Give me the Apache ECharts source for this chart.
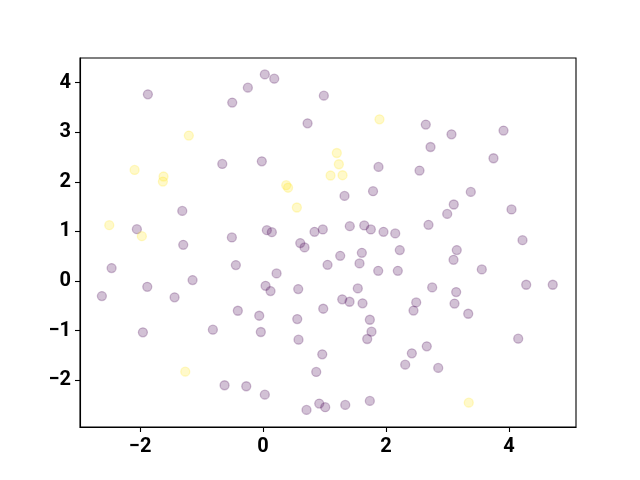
<!DOCTYPE html>
<html>
<head>
<meta charset="utf-8">
<script src="https://cdn.jsdelivr.net/npm/echarts@6/dist/echarts.min.js"></script>
<style>html,body{margin:0;padding:0;background:#fff}#c{width:640px;height:480px}</style>
</head>
<body>
<div id="c"></div>
<script>
// class 0 (dark purple) points
const purpleX = [-1.873,-0.501,-0.247,-0.663,0.029,0.182,0.989,0.724,-0.020,1.878,1.789,2.647,3.065,3.911,2.724,3.748,2.545,3.379,-1.314,-2.052,-1.298,-0.507,-2.463,-0.442,-1.146,-1.883,-2.621,-1.439,-0.410,1.325,0.062,0.143,0.837,0.972,1.411,1.646,1.753,1.959,2.150,0.605,0.675,1.255,1.607,2.224,1.049,1.569,0.220,1.873,2.192,0.041,0.122,0.572,1.541,1.288,1.407,1.618,0.979,3.102,2.995,4.041,2.691,4.220,3.151,3.098,3.558,2.751,3.141,4.280,4.712,2.491,3.114,2.447,-1.954,-0.816,-0.626,-0.273,-0.062,0.556,1.737,-0.036,0.577,1.764,1.694,2.420,2.312,0.963,0.865,0.029,0.707,0.914,1.011,1.337,1.737,3.337,4.150,2.663,2.849];
const purpleY = [3.763,3.596,3.897,2.360,4.165,4.078,3.736,3.179,2.414,2.300,1.811,3.153,2.958,3.032,2.702,2.475,2.227,1.797,1.414,1.046,0.730,0.879,0.262,0.322,0.020,-0.115,-0.302,-0.328,-0.598,1.716,1.026,0.986,0.992,1.040,1.107,1.121,1.040,0.992,0.960,0.765,0.678,0.509,0.569,0.624,0.328,0.356,0.155,0.207,0.207,-0.095,-0.201,-0.161,-0.147,-0.368,-0.416,-0.449,-0.557,1.543,1.354,1.443,1.133,0.825,0.624,0.429,0.235,-0.127,-0.221,-0.074,-0.074,-0.429,-0.453,-0.594,-1.032,-0.980,-2.099,-2.119,-0.698,-0.765,-0.779,-1.026,-1.181,-1.020,-1.167,-1.455,-1.684,-1.475,-1.831,-2.288,-2.596,-2.469,-2.541,-2.495,-2.414,-0.658,-1.161,-1.314,-1.750];
// class 1 (yellow) points
const yellowX = [-1.207,-2.089,-1.618,-1.629,1.894,1.200,1.233,1.098,1.293,0.377,0.407,0.550,-2.501,-1.971,-1.265,3.346];
const yellowY = [2.932,2.239,2.107,2.006,3.260,2.581,2.354,2.127,2.133,1.932,1.881,1.483,1.127,0.905,-1.825,-2.449];
const xTicks = [-2, 0, 2, 4];
const yTicks = [-2, -1, 0, 1, 2, 3, 4];

const zip = (xs, ys) => xs.map((x, i) => [x, ys[i]]);
const fmt = v => String(v).replace('-', '\u2212');
const labelStyle = { fontFamily: 'Roboto', fontWeight: 'bold', fontSize: 20, color: '#000' };

const chart = echarts.init(document.getElementById('c'), null, { renderer: 'canvas' });
chart.setOption({
  animation: false,
  backgroundColor: '#fff',
  grid: { left: 80, right: 64, top: 58, bottom: 53, show: true, borderColor: '#000', borderWidth: 1.1, containLabel: false, outerBoundsMode: 'none' },
  xAxis: {
    type: 'value', min: -2.977, max: 5.09,
    splitLine: { show: false },
    axisLine: { show: true, onZero: false, lineStyle: { color: '#000', width: 1.1 } },
    axisTick: { show: true, length: 5, lineStyle: { color: '#000', width: 1.1 }, customValues: xTicks },
    axisLabel: Object.assign({ margin: 10, customValues: xTicks, formatter: fmt }, labelStyle)
  },
  yAxis: {
    type: 'value', min: -2.94, max: 4.495,
    splitLine: { show: false },
    axisLine: { show: true, onZero: false, lineStyle: { color: '#000', width: 1.1 } },
    axisTick: { show: true, length: 5, lineStyle: { color: '#000', width: 1.1 }, customValues: yTicks },
    axisLabel: Object.assign({ margin: 9, customValues: yTicks, formatter: fmt }, labelStyle)
  },
  series: [
    {
      type: 'scatter', data: zip(purpleX, purpleY), symbolSize: 9,
      itemStyle: { color: 'rgba(68,1,84,0.3)', borderColor: 'rgba(68,1,84,0.3)', borderWidth: 1.3 }
    },
    {
      type: 'scatter', data: zip(yellowX, yellowY), symbolSize: 9,
      itemStyle: { color: 'rgba(253,231,37,0.3)', borderColor: 'rgba(253,231,37,0.3)', borderWidth: 1.3 }
    }
  ]
});
</script>
</body>
</html>
